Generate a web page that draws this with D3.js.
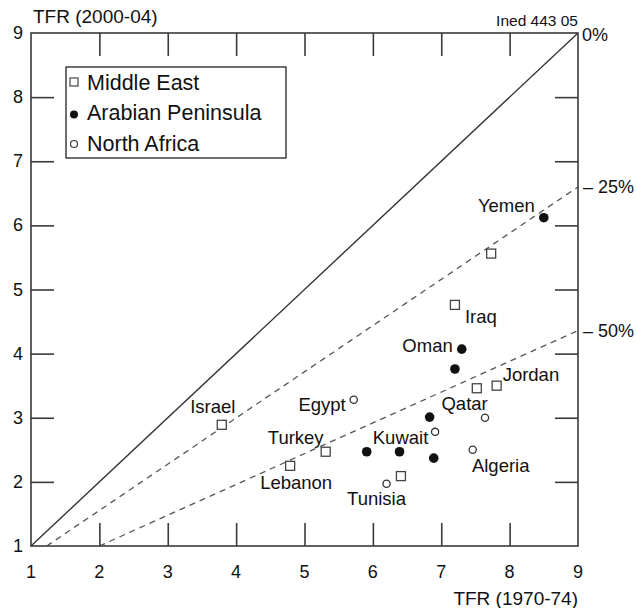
<!DOCTYPE html>
<html><head><meta charset="utf-8">
<script src="https://cdn.jsdelivr.net/npm/d3@7"></script>
</head><body style="margin:0"><svg id="c" width="637" height="608" font-family="Liberation Sans, Arial, Helvetica, sans-serif"></svg>
<script>
// ---- data ----
const xTicks = [1,2,3,4,5,6,7,8,9];
const yTicks = [1,2,3,4,5,6,7,8,9];
const innerTicks = [2,3,4,5,6,7,8];
const middleEast = [
  {x:3.79,y:2.89,label:"Israel"},
  {x:4.79,y:2.25,label:"Lebanon"},
  {x:5.31,y:2.47,label:"Turkey"},
  {x:6.41,y:2.09,label:""},
  {x:7.20,y:4.76,label:"Iraq"},
  {x:7.73,y:5.56,label:""},
  {x:7.52,y:3.46,label:""},
  {x:7.81,y:3.50,label:"Jordan"}
];
const arabianPeninsula = [
  {x:8.50,y:6.12,label:"Yemen"},
  {x:7.30,y:4.07,label:"Oman"},
  {x:7.20,y:3.76,label:""},
  {x:6.83,y:3.01,label:"Qatar"},
  {x:5.91,y:2.47,label:""},
  {x:6.39,y:2.47,label:"Kuwait"},
  {x:6.89,y:2.37,label:""}
];
const northAfrica = [
  {x:5.72,y:3.28,label:"Egypt"},
  {x:6.91,y:2.78,label:""},
  {x:7.64,y:3.00,label:""},
  {x:7.46,y:2.50,label:"Algeria"},
  {x:6.20,y:1.97,label:"Tunisia"}
];
const refLines = [
  {name:"0%",  pts:[[1,1],[9,9]], dashed:false},
  {name:"25%", pts:[[1.23,1],[9,6.6]], dashed:true},
  {name:"50%", pts:[[2,1],[9,4.36]], dashed:true}
];
// label offsets [dx,dy,anchor]
const labelPos = {
  Israel:[-9,-18,"middle"], Lebanon:[6,17,"middle"], Turkey:[-30,-14,"middle"],
  Iraq:[10,12,"start"], Jordan:[6,-11,"start"], Yemen:[-9,-12,"end"],
  Oman:[-9,-3,"end"], Qatar:[35,-13,"middle"], Kuwait:[1,-14,"middle"],
  Egypt:[-8,5,"end"], Algeria:[28,16,"middle"], Tunisia:[-10,15,"middle"]
};

const svg = d3.select("#c");
const X0=31, X1=578, Y0=546, Y1=33;
const x = d3.scaleLinear().domain([1,9]).range([X0,X1]);
const y = d3.scaleLinear().domain([1,9]).range([Y0,Y1]);
const TL = 23;
const ink = "#111";

// frame
svg.append("rect").attr("x",X0).attr("y",Y1).attr("width",X1-X0).attr("height",Y0-Y1)
  .attr("fill","none").attr("stroke","#3a3a3a").attr("stroke-width",1.6);

// tick labels
svg.append("g").selectAll("text").data(xTicks).join("text")
  .attr("x",d=>x(d)).attr("y",Y0+32).attr("text-anchor","middle").attr("font-size",18).attr("fill",ink).text(d3.format("d"));
svg.append("g").selectAll("text").data(yTicks).join("text")
  .attr("x",X0-8).attr("y",d=>y(d)+6).attr("text-anchor","end").attr("font-size",18).attr("fill",ink).text(d3.format("d"));

// reference lines
const line = d3.line().x(d=>x(d[0])).y(d=>y(d[1]));
refLines.forEach(r=>{
  svg.append("path").attr("d",line(r.pts)).attr("fill","none")
    .attr("stroke", r.dashed?"#555":"#333").attr("stroke-width",r.dashed?1.3:1.4)
    .attr("stroke-dasharray",r.dashed?"6,5":null);
  const end = r.pts[r.pts.length-1];
  svg.append("text").attr("x",x(end[0])+(r.dashed?5:4)).attr("y",y(end[1])+(r.dashed?6:8))
    .attr("font-size",18).attr("fill",ink).text(r.dashed?"\u2013 "+r.name:r.name);
});

// titles
svg.append("text").attr("x",33).attr("y",23).attr("font-size",19).attr("fill",ink).text("TFR (2000-04)");
svg.append("text").attr("x",X1).attr("y",605).attr("text-anchor","end").attr("font-size",19).attr("fill",ink).text("TFR (1970-74)");
svg.append("text").attr("x",X1).attr("y",26).attr("text-anchor","end").attr("font-size",15.5).attr("fill",ink).text("Ined 443 05");

// points
const sq=9;
svg.append("g").selectAll("rect").data(middleEast).join("rect")
  .attr("x",d=>x(d.x)-sq/2).attr("y",d=>y(d.y)-sq/2).attr("width",sq).attr("height",sq)
  .attr("fill","#fff").attr("stroke","#444").attr("stroke-width",1.3);
svg.append("g").selectAll("circle").data(arabianPeninsula).join("circle")
  .attr("cx",d=>x(d.x)).attr("cy",d=>y(d.y)).attr("r",4.8).attr("fill","#111");
svg.append("g").selectAll("circle").data(northAfrica).join("circle")
  .attr("cx",d=>x(d.x)).attr("cy",d=>y(d.y)).attr("r",3.6).attr("fill","#fff").attr("stroke","#333").attr("stroke-width",1.3);

// labels
const all = middleEast.concat(arabianPeninsula, northAfrica).filter(d=>d.label);
svg.append("g").selectAll("text").data(all).join("text")
  .attr("x",d=>x(d.x)+labelPos[d.label][0]).attr("y",d=>y(d.y)+labelPos[d.label][1]+6)
  .attr("text-anchor",d=>labelPos[d.label][2]).attr("font-size",18.5).attr("fill",ink).text(d=>d.label);

// legend
const lg = svg.append("g");
lg.append("rect").attr("x",66).attr("y",67).attr("width",220).attr("height",91)
  .attr("fill","#fff").attr("stroke","#222").attr("stroke-width",1.3);
const legendItems = ["Middle East","Arabian Peninsula","North Africa"];
legendItems.forEach((t,i)=>{
  const cy = 82+i*30.5;
  if(i===0) lg.append("rect").attr("x",70).attr("y",cy-4).attr("width",8).attr("height",8).attr("fill","#fff").attr("stroke","#444").attr("stroke-width",1.2);
  if(i===1) lg.append("circle").attr("cx",74).attr("cy",cy+2).attr("r",4).attr("fill","#111");
  if(i===2) lg.append("circle").attr("cx",74).attr("cy",cy+1).attr("r",3.5).attr("fill","#fff").attr("stroke","#333").attr("stroke-width",1.2);
  lg.append("text").attr("x",87).attr("y",cy+7.5).attr("font-size",21.5).attr("fill",ink).text(t);
});

// inward ticks on all four sides (drawn last, via d3 axes)
function tickStyle(g){
  g.select(".domain").remove();
  g.selectAll(".tick line").attr("stroke","#3a3a3a").attr("stroke-width",1.6);
  g.selectAll(".tick text").remove();
}
svg.append("g").attr("transform",`translate(0,${Y0})`)
  .call(d3.axisTop(x).tickValues(innerTicks).tickSize(TL)).call(tickStyle);
svg.append("g").attr("transform",`translate(0,${Y1})`)
  .call(d3.axisBottom(x).tickValues(innerTicks).tickSize(TL)).call(tickStyle);
svg.append("g").attr("transform",`translate(${X0},0)`)
  .call(d3.axisRight(y).tickValues(innerTicks).tickSize(TL)).call(tickStyle);
svg.append("g").attr("transform",`translate(${X1},0)`)
  .call(d3.axisLeft(y).tickValues(innerTicks).tickSize(TL)).call(tickStyle);
</script></body></html>
